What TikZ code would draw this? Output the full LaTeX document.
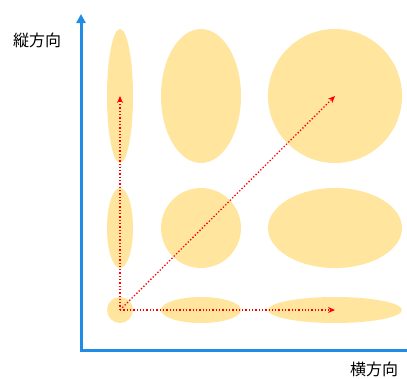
\documentclass[tikz,border=0pt]{standalone}
\usepackage{fontspec}
\newfontfamily\jpfont{Noto Sans CJK JP}
\usetikzlibrary{shapes.geometric,arrows.meta}
\definecolor{blobyellow}{RGB}{255,229,158}
\definecolor{axisblue}{RGB}{33,140,230}
\tikzset{
  blob/.style={ellipse, fill=blobyellow, draw=none, inner sep=0pt},
  axisline/.style={axisblue, line width=3pt, line join=miter},
  motion/.style={red, dotted, line width=1.3pt, -{Stealth[length=7pt,width=6pt]}},
  axislabel/.style={font=\jpfont\fontsize{16}{18}\selectfont}
}
\begin{document}
\begin{tikzpicture}[x=1pt,y=-1pt]
                \useasboundingbox (0,0) rectangle (407,378);

                \node[blob, minimum width=26pt, minimum height=134pt] (tl) at (120,96) {};
                \node[blob, minimum width=80pt, minimum height=134pt] (tm) at (201,96) {};
                \node[blob, minimum width=134pt, minimum height=134pt] (tr) at (335,96) {};

                \node[blob, minimum width=26pt, minimum height=80pt] (ml) at (120,228) {};
                \node[blob, minimum width=80pt, minimum height=80pt] (mm) at (201,228) {};
                \node[blob, minimum width=134pt, minimum height=80pt] (mr) at (335,228) {};

                \node[blob, minimum width=26pt, minimum height=26pt] (bl) at (120,310) {};
                \node[blob, minimum width=80pt, minimum height=26pt] (bm) at (201,310) {};
                \node[blob, minimum width=134pt, minimum height=26pt] (br) at (335,310) {};

                \coordinate (ytop) at (81,14);
                \coordinate (origin) at (81,350);
                \coordinate (xend) at (410,350);

                \draw[axisline, {Triangle[length=9pt,width=9pt]}-] (ytop) -- (origin) -- (xend);

                \draw[motion] (bl.center) -- (tl.center);

                \draw[motion] (bl.center) -- (br.center);

                \draw[motion] (bl.center) -- (tr.center);

                \node[axislabel] (vlabel) at (37,40) {縦方向};

                \node[axislabel] (hlabel) at (374,369) {横方向};
            \end{tikzpicture}
\end{document}
